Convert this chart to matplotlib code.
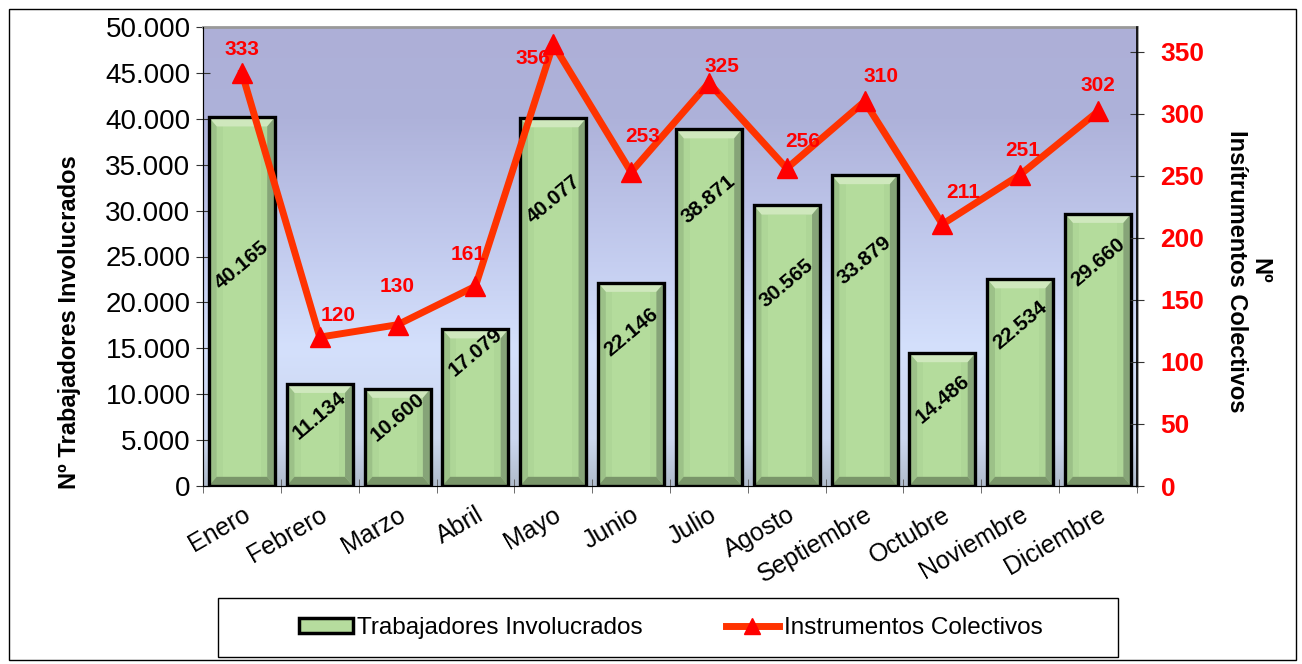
import numpy as np
import matplotlib
matplotlib.use("Agg")
import matplotlib.pyplot as plt
from matplotlib.patches import Polygon, Rectangle
from matplotlib.lines import Line2D

plt.rcParams["font.family"] = ["Liberation Sans", "DejaVu Sans"]

months = ["Enero", "Febrero", "Marzo", "Abril", "Mayo", "Junio", "Julio",
          "Agosto", "Septiembre", "Octubre", "Noviembre", "Diciembre"]
trabajadores = [40165, 11134, 10600, 17079, 40077, 22146, 38871, 30565,
                33879, 14486, 22534, 29660]
instrumentos = [333, 120, 130, 161, 356, 253, 325, 256, 310, 211, 251, 302]
left_ticks = list(range(0, 50001, 5000))
right_ticks = list(range(0, 351, 50))

# where the labels sit (layout only)
bar_label_y = [24000, 7700, 7500, 14600, 31200, 16700, 31200, 22100, 24600, 9400, 17500, 24400]
line_label_off = [(0, 23), (18, 22), (0, 38), (-7, 32), (-20, -14), (12, 36),
                  (13, 16), (16, 27), (16, 25), (21, 32), (3, 24), (0, 26)]


def miles(v):
    return f"{v:,.0f}".replace(",", ".")


fig = plt.figure(figsize=(13.02, 6.64), dpi=100)
W, H = 1302, 664
fig.patches.append(Rectangle((9 / W, 1 - 660 / H), 1287 / W, 651 / H, transform=fig.transFigure,
                             fill=False, edgecolor="black", linewidth=1.0))
fig.patches.append(Rectangle((218 / W, 1 - 657 / H), 900 / W, 59 / H, transform=fig.transFigure,
                             fill=False, edgecolor="black", linewidth=1.0))

ax = fig.add_axes([203 / W, 1 - 486 / H, 934 / W, 459 / H])
x = np.arange(len(months))
ax.set_xlim(-0.5, len(months) - 0.5)
ax.set_ylim(0, 50000)

# gradient background of the plot area
grad = np.linspace(0, 1, 256)[:, None]
cmap = matplotlib.colors.LinearSegmentedColormap.from_list(
    "bg", [(0, "#b0bccc"), (0.1, "#cbd6ee"), (0.3, "#d4e0fc"),
           (0.55, "#c0c8ec"), (0.8, "#aeb2da"), (1, "#adafd7")])
ax.imshow(grad, aspect="auto", cmap=cmap, origin="lower",
          extent=(-0.5, len(months) - 0.5, 0, 50000), zorder=0)

# bevelled bars
w = 0.85
bx = 0.1
by = 1000
for xi, v in zip(x, trabajadores):
    l, r = xi - w / 2, xi + w / 2
    ax.add_patch(Rectangle((l, 0), w, v, facecolor="#aed697", edgecolor="none", zorder=2))
    ax.add_patch(Rectangle((l + bx + 0.08, by), w - 2 * bx - 0.16, v - 2 * by,
                           facecolor="#b4dc9c", edgecolor="none", zorder=2))
    ax.add_patch(Polygon([(l, v), (r, v), (r - bx, v - by), (l + bx, v - by)],
                         facecolor="#cfe8bd", edgecolor="none", zorder=2))
    ax.add_patch(Polygon([(l, 0), (l, v), (l + bx, v - by), (l + bx, by)],
                         facecolor="#9cc188", edgecolor="none", zorder=2))
    ax.add_patch(Polygon([(r, 0), (r, v), (r - bx, v - by), (r - bx, by)],
                         facecolor="#86a478", edgecolor="none", zorder=2))
    ax.add_patch(Polygon([(l, 0), (r, 0), (r - bx, by), (l + bx, by)],
                         facecolor="#7a966a", edgecolor="none", zorder=2))
    ax.add_patch(Rectangle((l, 0), w, v, fill=False, edgecolor="black",
                           linewidth=2.4, zorder=3))

for xi, v, ly in zip(x, trabajadores, bar_label_y):
    ax.text(xi, ly, miles(v), rotation=40, ha="center", va="center",
            fontsize=15, fontweight="bold", color="black", zorder=4)

ax.set_yticks(left_ticks)
ax.set_yticklabels([miles(t) for t in left_ticks], fontsize=20)
ax.set_xticks(x)
ax.set_xticklabels(months, rotation=30, ha="right", rotation_mode="anchor", fontsize=18)
ax.set_xticks(np.arange(-0.5, len(months)), minor=True)
ax.tick_params(axis="x", which="major", length=0, pad=12)
ax.tick_params(axis="x", which="minor", length=10, direction="inout", color="#555555")
ax.tick_params(axis="y", length=10, direction="inout", color="#333333", pad=4)
ax.set_ylabel("Nº Trabajadores Involucrados", fontsize=17, fontweight="bold")
ax.yaxis.set_label_coords(-0.131, 0.357)
for side in ["top", "right"]:
    ax.spines[side].set_color("#999999")
    ax.spines[side].set_linewidth(2)
ax.spines["left"].set_color("#444444")
ax.spines["bottom"].set_color("#444444")

ax2 = ax.twinx()
ax2.set_ylim(0, 370)
ax2.plot(x, instrumentos, color="#ff3300", linewidth=5, marker="^",
         markersize=15, markerfacecolor="#ff0000", markeredgecolor="#ff0000", zorder=5)
for xi, v, (dx, dy) in zip(x, instrumentos, line_label_off):
    ax2.annotate(str(v), (xi, v), xytext=(dx * 0.72, dy * 0.72), textcoords="offset points",
                 ha="center", va="center", fontsize=15, fontweight="bold", color="#ff0000",
                 zorder=6)
ax2.set_yticks(right_ticks)
ax2.set_yticklabels([str(t) for t in right_ticks], fontsize=19, fontweight="bold", color="#ff0000")
ax2.tick_params(axis="y", length=10, direction="inout", color="#333333", pad=12)
ax2.spines["right"].set_color("black")
ax2.spines["right"].set_linewidth(1.2)
ax2.spines["top"].set_visible(False)
ax2.set_ylabel("Nº\nInsítrumentos Colectivos", fontsize=17, fontweight="bold",
               rotation=-90, labelpad=48, linespacing=1.0)
ax2.yaxis.label.set_y(0.468)

handles = [
    Rectangle((0, 0), 1, 1, facecolor="#b6dc9e", edgecolor="black", linewidth=2.5),
    Line2D([0], [0], color="#ff3300", linewidth=5, marker="^", markersize=12,
           markerfacecolor="#ff0000", markeredgecolor="#ff0000"),
]
leg = fig.legend(handles, ["Trabajadores Involucrados", "Instrumentos Colectivos"],
                 loc="center", bbox_to_anchor=(671 / W, 1 - 628 / H), bbox_transform=fig.transFigure,
                 ncol=2, fontsize=17.5, frameon=False,
                 handlelength=2.2, handleheight=0.6, handletextpad=0.2, columnspacing=3.4)

fig.savefig("out.png", dpi=100)
